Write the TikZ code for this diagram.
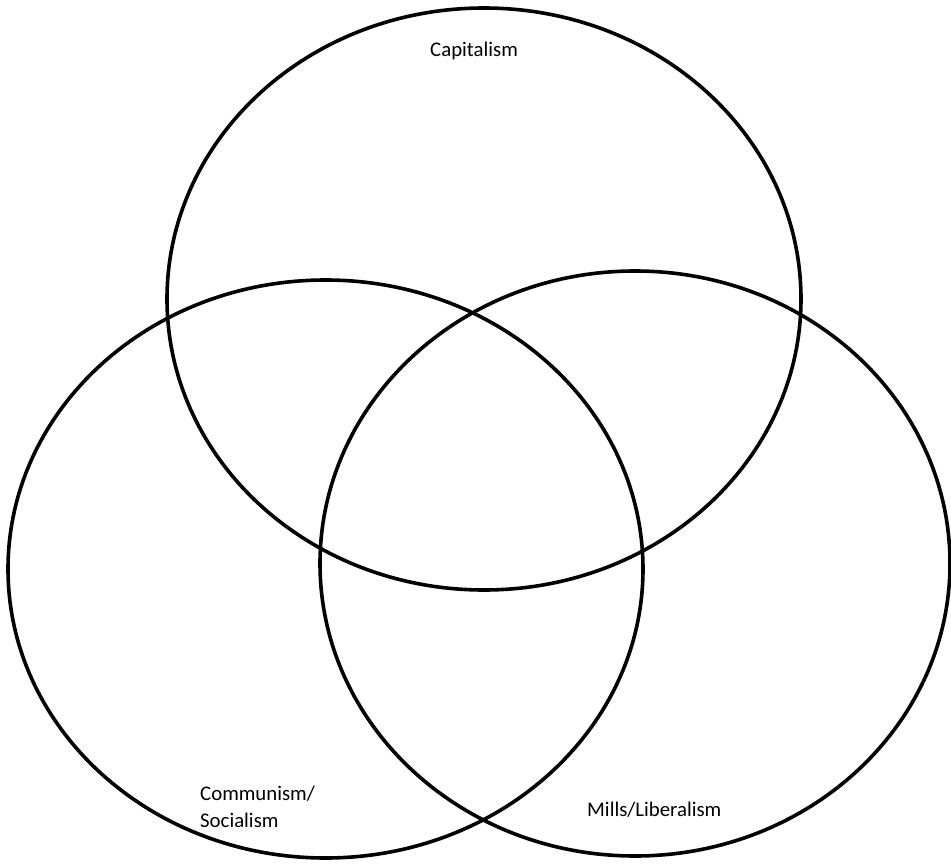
\documentclass[tikz,border=0pt]{standalone}
\usepackage{fontspec}
\setmainfont{Carlito}
\usetikzlibrary{positioning}

\begin{document}
\begin{tikzpicture}[x=1pt,y=-1pt]
\tikzstyle{ring} =[line width=3.6pt]
\tikzstyle{tag} =[inner sep=0pt,anchor=base west,font=\fontsize{20.8}{25}\selectfont]
\useasboundingbox (0,0) rectangle (951,864);

% the three sets
\draw[ring] (484,299) ellipse [x radius=317pt, y radius=291pt];
\draw[ring] (325.5,569) ellipse [x radius=317.5pt, y radius=289pt];
\draw[ring] (635,563.5) ellipse [x radius=315pt, y radius=292.5pt];

% labels
\node[tag](capitalism) at (430,57){Capitalism};
\node[tag](communism) at (200,800){Communism/};
\node[tag](socialism) at ([yshift=-27pt]communism.base west){Socialism};
\node[tag](mills) at (587,816){Mills/Liberalism};
\end{tikzpicture}
\end{document}
